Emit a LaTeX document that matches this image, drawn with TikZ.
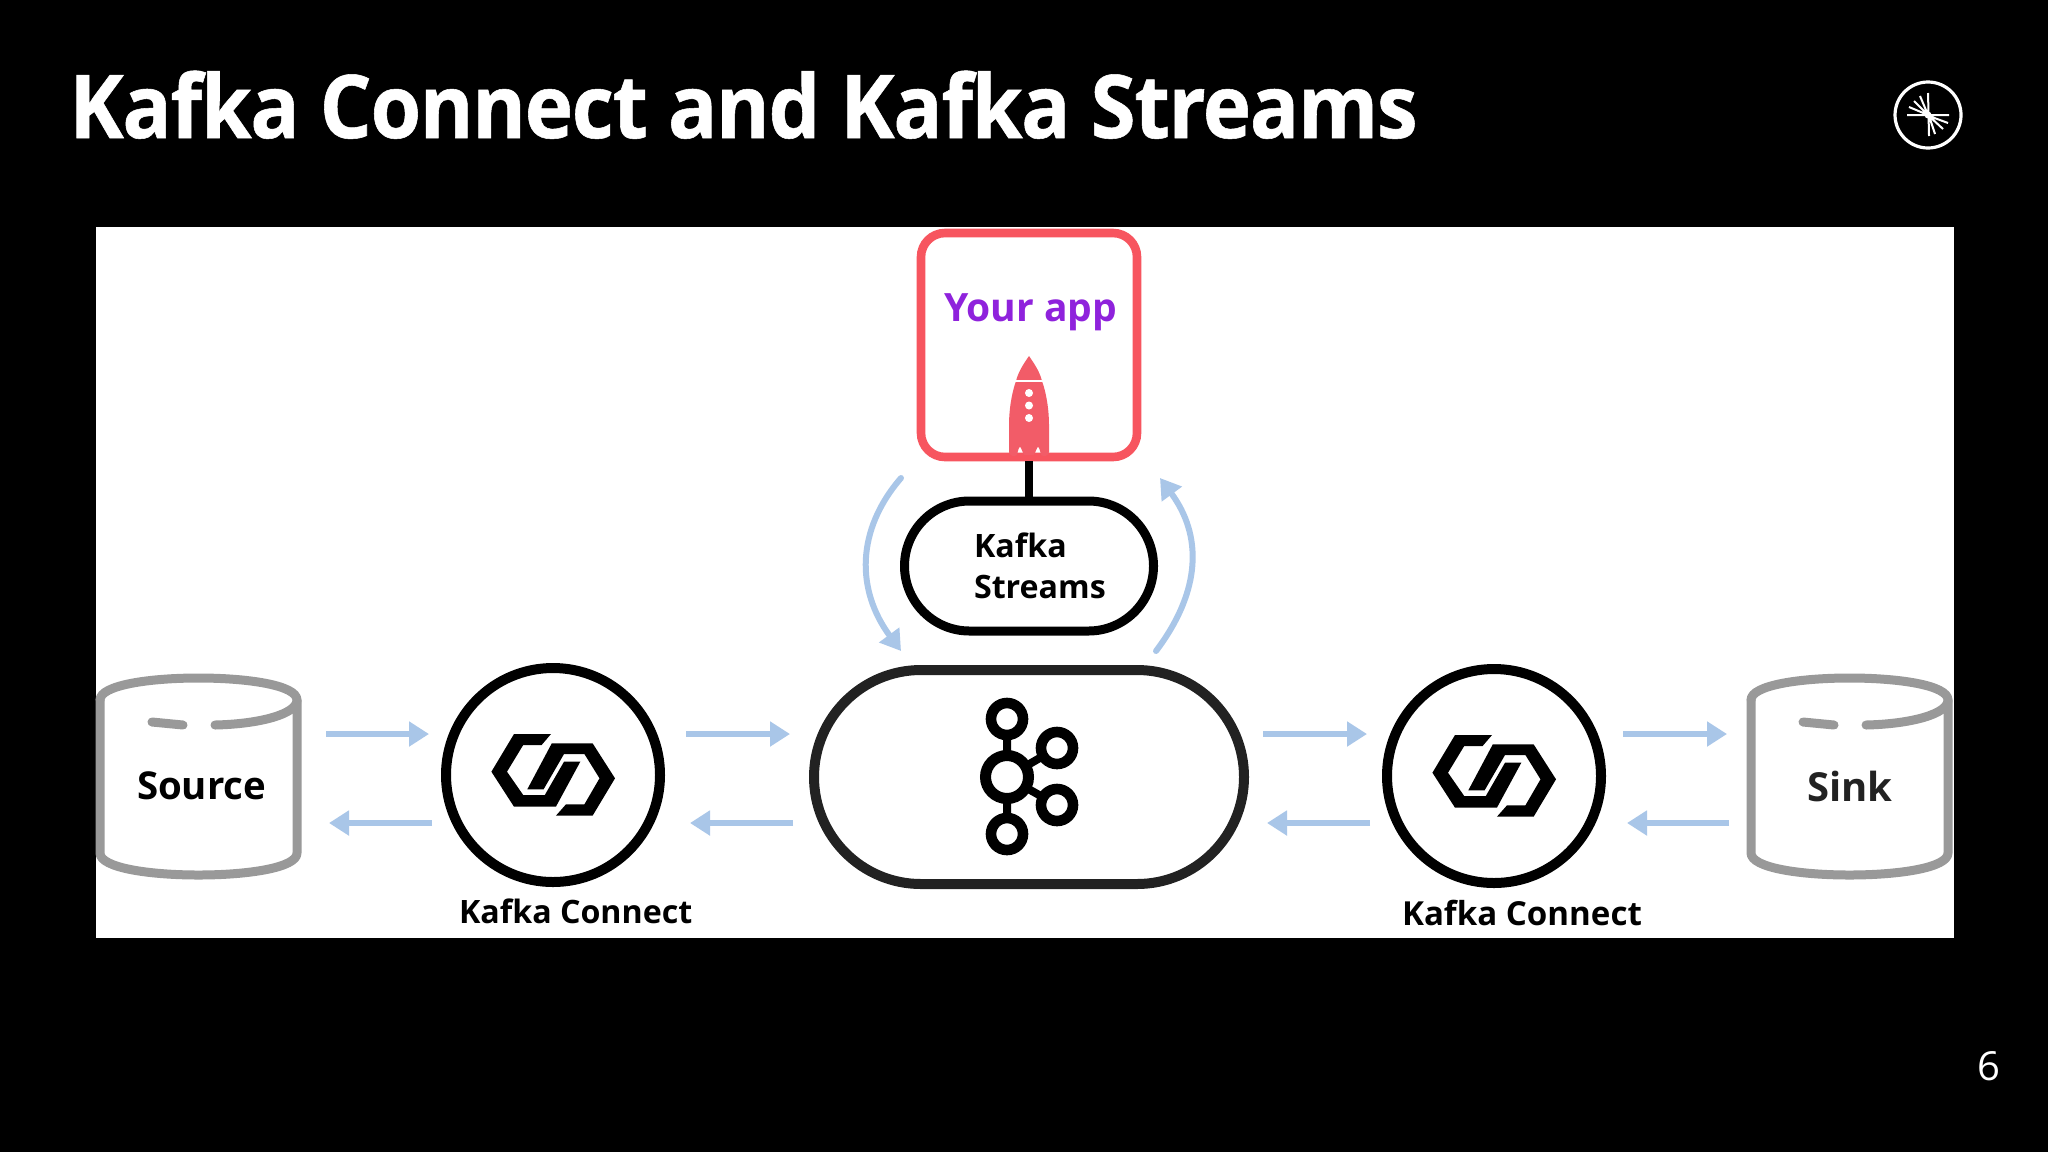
\documentclass[tikz,border=0pt]{standalone}
\usepackage{fontspec}
\setmainfont{Open Sans}
\usetikzlibrary{arrows.meta,shapes.misc,positioning}
\definecolor{flow}{HTML}{A9C6E8}
\definecolor{coral}{HTML}{F7555F}
\definecolor{rocketc}{HTML}{F25C68}
\definecolor{purpl}{HTML}{8F22DC}
\definecolor{cyl}{HTML}{999999}
\definecolor{pilldark}{HTML}{222222}
\tikzset{
  label text/.style={inner sep=0pt,outer sep=0pt,anchor=base west,font=\bfseries\fontsize{16.1}{20}\selectfont,text=black},
  big text/.style={inner sep=0pt,outer sep=0pt,anchor=base west,font=\bfseries\fontsize{19.2}{24}\selectfont},
  flowarrow/.style={draw=flow,line width=3pt,-{Triangle[length=10pt,width=12pt,fill=flow]}},
  looparrow/.style={draw=flow,line width=3pt,line cap=round,-{Triangle[length=10pt,width=12pt,fill=flow]}},
  linkcircle/.style={circle,draw=black,line width=5pt,minimum size=107pt,inner sep=0pt,fill=white},
  cylline/.style={draw=cyl,line width=4.5pt,line cap=round,line join=round},
}
\newcommand{\linkicon}[2]{%
  \begin{scope}[shift={(#1,#2)}]
    \fill[black] (-2,-41)--(-39,-41)--(-61.6,-3.3)--(-39,31.7)--(2.9,31.7)--(27.3,-13.3)--(11,-13.3)--(-8.2,20)--(-29.8,20)--(-46,-3.3)--(-29.8,-30)--(-11.4,-30)--cycle;
    \fill[black] (2.9,40.7)--(39.6,40.7)--(62,3.3)--(39.6,-31.7)--(-1.2,-31.7)--(-25.7,14.3)--(-9.4,14.3)--(11,-21)--(31.4,-21)--(46.5,3.3)--(31.4,29.3)--(13,29.3)--cycle;
  \end{scope}}
\newcommand{\cylinder}[1]{%
  \begin{scope}[shift={(#1,0)}]
    \draw[cylline] (0,700) .. controls (0,685) and (50,678) .. (98.5,678) .. controls (147,678) and (197,685) .. (197,700)
       .. controls (197,714) and (160,724) .. (115,725);
    \draw[cylline] (52,722) -- (83,725);
    \draw[cylline] (0,700) -- (0,853) .. controls (0,868) and (50,875) .. (98.5,875) .. controls (147,875) and (197,868) .. (197,853) -- (197,700);
  \end{scope}}
\begin{document}
\begin{tikzpicture}[x=0.5pt,y=-0.5pt]
\useasboundingbox (0,0) rectangle (2048,1152);
\fill[black] (0,0) rectangle (2048,1152);
\fill[white] (95.5,227) rectangle (1954,938);

% title, number, logo
\node[inner sep=0pt,anchor=base west,text=white,font=\bfseries\fontsize{44}{50}\selectfont] (title) at (69,138) {\addfontfeature{LetterSpace=-1.5,FakeStretch=0.93,FakeBold=0.6}Kafka Connect and Kafka Streams};
\node[inner sep=0pt,anchor=base,text=white,font=\fontsize{20}{24}\selectfont] (page) at (1989,1080) {6};
\begin{scope}[shift={(1928,115)}]
  \draw[white,line width=1.6pt] (0,0) circle (33);
  \draw[white,line width=1pt] (-21,0)--(21,0) (0,-22)--(1,21) (0,0)--(-19,-8) (0,0)--(-14,-14) (0,0)--(-8,-19) (1,1)--(20,8) (1,1)--(15,14) (1,1)--(7,19);
  \fill[white] (0,0) circle (3.5);
\end{scope}

% your app
\node[draw=coral,line width=4.3pt,rounded corners=12pt,minimum width=108pt,minimum height=112pt,inner sep=0pt,fill=white] (app) at (1029,345) {};
\node[inner sep=0pt,anchor=base,text=purpl,font=\bfseries\fontsize{19.5}{24}\selectfont] (applabel) at (1030.5,321.5) {Your app};
% rocket
\fill[rocketc] (1029,356) .. controls (1022,366) and (1018,373) .. (1016,381) .. controls (1011,395) and (1009,412) .. (1009,425) -- (1009,452) .. controls (1009,456) and (1015,457) .. (1017,455) .. controls (1018,450) and (1019,447) .. (1020,447) .. controls (1021,447) and (1022,451) .. (1024,455) -- (1034,455) .. controls (1036,451) and (1037,447) .. (1038,447) .. controls (1039,447) and (1040,450) .. (1041,455) .. controls (1043,457) and (1049,456) .. (1049,452) -- (1049,425) .. controls (1049,412) and (1047,395) .. (1042,381) .. controls (1040,373) and (1036,366) .. (1029,356) -- cycle;
\draw[white,line width=1pt] (1015,381) -- (1043,381);
\fill[white] (1029,393) circle (4) (1029,405.5) circle (4) (1029,418) circle (4);

% kafka streams
\node[rounded rectangle,draw=black,line width=4.5pt,minimum width=124.5pt,minimum height=65pt,inner sep=0pt,fill=white] (streams) at (1029,566) {};
\node[label text] (kafkaL) at (974,557) {Kafka};
\node[label text] (streamsL) at (974,598) {Streams};
\draw[black,line width=4pt] (app.south) -- (streams.north);

% kafka broker
\node[rounded rectangle,draw=pilldark,line width=5pt,minimum width=215pt,minimum height=107pt,inner sep=0pt,fill=white] (broker) at (1029,777) {};
\begin{scope}[black]
  \draw[line width=4pt] (1007,719)--(1007,834) (1007,777)--(1057,748) (1007,777)--(1057,805);
  \draw[line width=5.3pt,fill=white] (1007,719) circle (16) (1007,834) circle (16) (1057,748) circle (16) (1057,805) circle (16);
  \draw[line width=5.5pt,fill=white] (1007,777) circle (21.5);
\end{scope}

% connect
\node[linkcircle] (connectA) at (553,775) {};
\node[linkcircle] (connectB) at (1494,776) {};
\linkicon{553}{775}
\linkicon{1494}{776}
\node[label text] (connectAL) at (459,923) {Kafka Connect};
\node[label text,font=\bfseries\fontsize{16.55}{20}\selectfont] (connectBL) at (1402,925) {Kafka Connect};

% cylinders
\cylinder{100}
\cylinder{1751}
\node[big text,text=black] (source) at (137,799) {Source};
\node[big text,font=\bfseries\fontsize{20}{24}\selectfont,text=pilldark] (sink) at (1807,801) {Sink};

% flow arrows
\coordinate (a1) at (326,734); \coordinate (a2) at (429,734);
\coordinate (b1) at (432,823); \coordinate (b2) at (329,823);
\coordinate (c1) at (686,734); \coordinate (c2) at (790,734);
\coordinate (d1) at (793,823); \coordinate (d2) at (690,823);
\coordinate (e1) at (1263,734); \coordinate (e2) at (1367,734);
\coordinate (f1) at (1370,823); \coordinate (f2) at (1267,823);
\coordinate (g1) at (1623,734); \coordinate (g2) at (1727,734);
\coordinate (h1) at (1729,823); \coordinate (h2) at (1627,823);
\foreach \s/\t in {a1/a2,b1/b2,c1/c2,d1/d2,e1/e2,f1/f2,g1/g2,h1/h2}
  \draw[flowarrow] (\s) -- (\t);

\coordinate (l1) at (901,478); \coordinate (l2) at (901,651);
\coordinate (r1) at (1156,651); \coordinate (r2) at (1160,478);
\draw[looparrow] (l1) .. controls (856,530) and (856,590) .. (l2);
\draw[looparrow] (r1) .. controls (1202,590) and (1202,535) .. (r2);
\end{tikzpicture}
\end{document}
